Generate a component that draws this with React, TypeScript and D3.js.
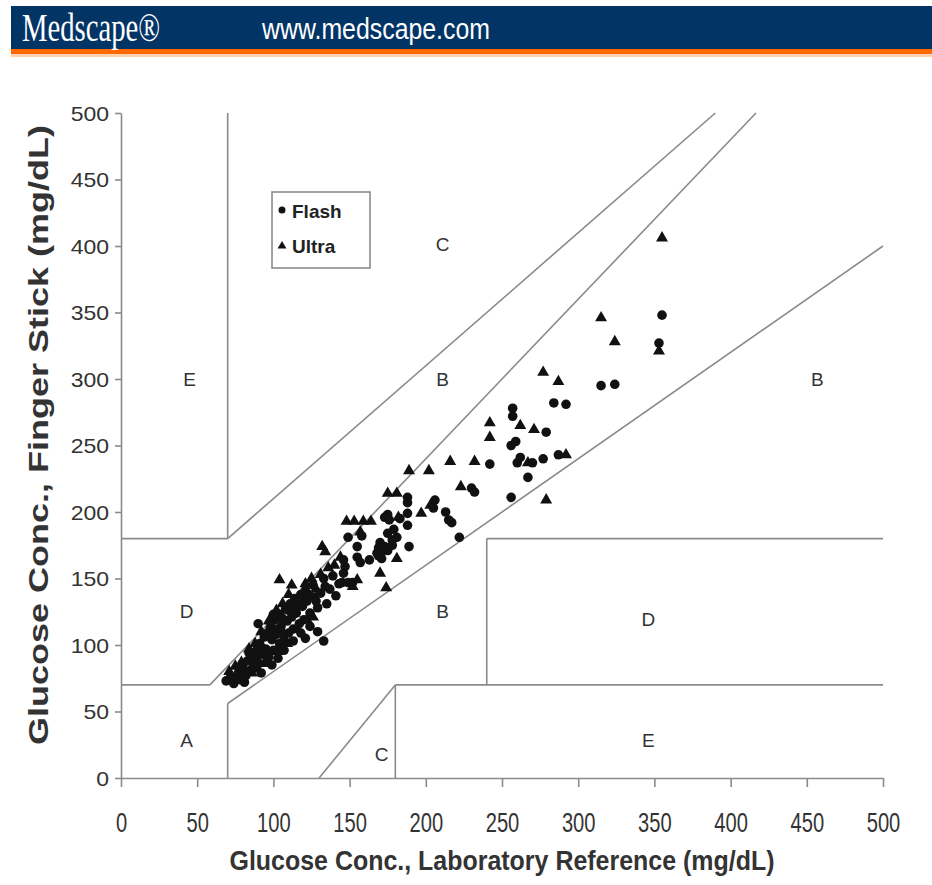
import { useEffect, useRef } from 'react'
import * as d3 from 'd3'

const xTicks = [0, 50, 100, 150, 200, 250, 300, 350, 400, 450, 500]
const yTicks = [0, 50, 100, 150, 200, 250, 300, 350, 400, 450, 500]

// Clarke error grid zone boundaries [x1, y1, x2, y2]
const zoneLines = [
  [0, 70, 175 / 3, 70],
  [175 / 3, 70, 1250 / 3, 500],
  [70, 180, 70, 500],
  [0, 180, 70, 180],
  [70, 180, 390, 500],
  [70, 56, 500, 400],
  [70, 0, 70, 56],
  [130, 0, 180, 70],
  [180, 0, 180, 70],
  [180, 70, 500, 70],
  [240, 70, 240, 180],
  [240, 180, 500, 180],
]

const zoneLabels = [
  ['E', 45, 300],
  ['C', 211, 401],
  ['B', 211, 300],
  ['B', 457, 300],
  ['D', 43, 125],
  ['B', 211, 125],
  ['D', 346, 119],
  ['A', 43, 28],
  ['C', 171, 18],
  ['E', 346, 28],
]

const flash = [
  [355, 348], [353, 327], [315, 295], [324, 296], [284, 282], [292, 281], [257, 278], [257, 272],
  [279, 260], [256, 250], [259, 253], [242, 236], [260, 237], [262, 241], [270, 237], [277, 240],
  [287, 243], [267, 226], [256, 211], [230, 218], [232, 215], [188, 211], [188, 207], [173, 196],
  [183, 195], [188, 199], [206, 209], [205, 203], [213, 200], [215, 194], [217, 192], [222, 181],
  [175, 184], [179, 187], [181, 181], [189, 174], [175, 198], [176, 194], [188, 190], [178, 179],
  [149, 181], [158, 182], [170, 177], [169, 173], [168, 169], [171, 170], [173, 174], [175, 171],
  [178, 175], [163, 164], [169, 167], [171, 165], [155, 174], [155, 166], [157, 162], [146, 164],
  [147, 159], [146, 154], [145, 147], [149, 147], [152, 147], [90, 116], [121, 105], [129, 110],
  [133, 103],
  [69, 73], [72, 76], [74, 71], [77, 79], [78, 74], [80, 83], [82, 77], [83, 88], [85, 81],
  [86, 92], [87, 85], [89, 96], [90, 87], [91, 101], [93, 93], [94, 106], [95, 97], [97, 91],
  [98, 113], [99, 104], [100, 96], [101, 119], [102, 108], [104, 101], [104, 123], [105, 114],
  [107, 104], [108, 127], [109, 118], [110, 109], [111, 131], [112, 121], [113, 112], [114, 135],
  [115, 124], [117, 116], [118, 138], [119, 129], [120, 119], [121, 141], [122, 133], [124, 124],
  [126, 145], [127, 136], [129, 128], [131, 139], [133, 150], [135, 131], [137, 142], [139, 152],
  [141, 137], [143, 146], [84, 94], [89, 83], [96, 88], [103, 90], [107, 96], [113, 103],
  [118, 109], [124, 114], [99, 85], [92, 79], [81, 72], [110, 126], [116, 133], [101, 112],
  [96, 109], [106, 120], [112, 127], [119, 134], [92, 98], [88, 91], [76, 75], [123, 138],
  [128, 133], [134, 144], [100, 123], [105, 110], [115, 129],
]

const ultra = [
  [355, 406], [353, 321], [315, 346], [324, 328], [277, 305], [287, 298], [242, 267], [262, 265],
  [271, 262], [242, 256], [189, 231], [202, 231], [216, 238], [232, 238], [267, 237], [292, 243],
  [279, 209], [223, 219], [175, 214], [181, 214], [197, 199], [203, 205], [148, 193], [153, 193],
  [159, 193], [164, 193], [182, 196], [157, 185], [181, 165], [170, 154], [132, 174], [134, 170],
  [155, 149], [152, 144], [174, 143], [104, 149], [112, 145],
  [71, 80], [75, 84], [79, 87], [84, 97], [88, 101], [92, 110], [97, 118], [102, 126], [106, 131],
  [110, 138], [114, 130], [118, 136], [121, 146], [125, 150], [128, 142], [131, 153], [136, 158],
  [140, 160], [144, 166], [98, 108], [103, 95], [109, 101], [116, 112], [122, 119], [126, 121],
  [86, 79], [94, 86],
]

const W = 932
const H = 885

export default function App() {
  const ref = useRef<SVGSVGElement | null>(null)

  useEffect(() => {
    const svg = d3.select(ref.current)
    svg.selectAll('*').remove()

    const x = d3.scaleLinear().domain([0, 500]).range([121, 883])
    const y = d3.scaleLinear().domain([0, 500]).range([778, 113])
    const grey = '#8a8a8a'
    const textCol = '#333'

    // header band
    svg.append('rect').attr('x', 11).attr('y', 6).attr('width', W - 11).attr('height', 43).attr('fill', '#033466')
    svg.append('rect').attr('x', 11).attr('y', 49).attr('width', W - 11).attr('height', 5).attr('fill', '#ff6a00')
    svg.append('rect').attr('x', 11).attr('y', 54).attr('width', W - 11).attr('height', 3).attr('fill', '#ffd2b0')
    svg
      .append('text')
      .attr('x', 22)
      .attr('y', 41)
      .attr('fill', '#fff')
      .attr('font-family', 'Liberation Serif, serif')
      .attr('font-size', 39)
      .attr('textLength', 138)
      .attr('lengthAdjust', 'spacingAndGlyphs')
      .text('Medscape®')
    svg
      .append('text')
      .attr('x', 262)
      .attr('y', 39)
      .attr('fill', '#fff')
      .attr('font-family', 'Liberation Sans, Arial, sans-serif')
      .attr('font-size', 29)
      .attr('textLength', 228)
      .attr('lengthAdjust', 'spacingAndGlyphs')
      .text('www.medscape.com')

    // zone lines
    svg
      .append('g')
      .selectAll('line')
      .data(zoneLines)
      .join('line')
      .attr('x1', (d) => x(d[0]))
      .attr('y1', (d) => y(d[1]))
      .attr('x2', (d) => x(d[2]))
      .attr('y2', (d) => y(d[3]))
      .attr('stroke', grey)
      .attr('stroke-width', 1.6)

    // axes
    const xAxis = svg
      .append('g')
      .attr('transform', `translate(0,${y(0)})`)
      .call(d3.axisBottom(x).tickValues(xTicks).tickSize(9).tickSizeOuter(0).tickFormat(d3.format('d')))
    xAxis.selectAll('path,line').attr('stroke', grey).attr('stroke-width', 1.6)
    xAxis
      .selectAll('text')
      .attr('fill', textCol)
      .attr('font-family', 'Liberation Sans, Arial, sans-serif')
      .attr('font-size', 28)
      .attr('y', 0)
      .attr('dy', 0)
      .attr('transform', 'translate(0,54) scale(0.72,1)')
      .attr('x', 0)

    const yAxis = svg
      .append('g')
      .attr('transform', `translate(${x(0)},0)`)
      .call(d3.axisLeft(y).tickValues(yTicks).tickSize(6).tickSizeOuter(0).tickFormat(d3.format('d')))
    yAxis.selectAll('path,line').attr('stroke', grey).attr('stroke-width', 1.6)
    yAxis
      .selectAll('text')
      .attr('fill', textCol)
      .attr('font-family', 'Liberation Sans, Arial, sans-serif')
      .attr('font-size', 20)
      .attr('x', 0)
      .attr('dy', '0.35em')
      .attr('transform', 'translate(-12,0) scale(1.15,1)')

    // axis titles
    svg
      .append('text')
      .attr('x', 502)
      .attr('y', 870)
      .attr('text-anchor', 'middle')
      .attr('fill', textCol)
      .attr('font-family', 'Liberation Sans, Arial, sans-serif')
      .attr('font-weight', 'bold')
      .attr('font-size', 27)
      .attr('textLength', 545)
      .attr('lengthAdjust', 'spacingAndGlyphs')
      .text('Glucose Conc., Laboratory Reference (mg/dL)')
    svg
      .append('text')
      .attr('transform', 'translate(48,435) rotate(-90)')
      .attr('text-anchor', 'middle')
      .attr('fill', textCol)
      .attr('font-family', 'Liberation Sans, Arial, sans-serif')
      .attr('font-weight', 'bold')
      .attr('font-size', 27)
      .attr('textLength', 620)
      .attr('lengthAdjust', 'spacingAndGlyphs')
      .text('Glucose Conc., Finger Stick (mg/dL)')

    // zone labels
    svg
      .append('g')
      .selectAll('text')
      .data(zoneLabels)
      .join('text')
      .attr('x', (d) => x(d[1] as number))
      .attr('y', (d) => y(d[2] as number))
      .attr('dy', '0.35em')
      .attr('text-anchor', 'middle')
      .attr('fill', textCol)
      .attr('font-family', 'Liberation Sans, Arial, sans-serif')
      .attr('font-size', 19)
      .text((d) => d[0] as string)

    // points
    const tri = d3.symbol().type(d3.symbolTriangle).size(62)
    svg
      .append('g')
      .selectAll('circle')
      .data(flash)
      .join('circle')
      .attr('cx', (d) => x(d[0]))
      .attr('cy', (d) => y(d[1]))
      .attr('r', 4.8)
      .attr('fill', '#111')
    svg
      .append('g')
      .selectAll('path')
      .data(ultra)
      .join('path')
      .attr('transform', (d) => `translate(${x(d[0])},${y(d[1])})`)
      .attr('d', tri)
      .attr('fill', '#111')

    // legend
    const lg = svg.append('g').attr('transform', 'translate(272,192)')
    lg.append('rect').attr('width', 98).attr('height', 76).attr('fill', '#fff').attr('stroke', grey).attr('stroke-width', 1.6)
    lg.append('circle').attr('cx', 10).attr('cy', 18).attr('r', 3.5).attr('fill', '#111')
    lg.append('path').attr('transform', 'translate(10,54)').attr('d', d3.symbol().type(d3.symbolTriangle).size(34)).attr('fill', '#111')
    ;['Flash', 'Ultra'].forEach((t, i) => {
      lg.append('text')
        .attr('x', 20)
        .attr('y', 19 + i * 35)
        .attr('dy', '0.35em')
        .attr('fill', '#222')
        .attr('font-family', 'Liberation Sans, Arial, sans-serif')
        .attr('font-weight', 'bold')
        .attr('font-size', 19)
        .text(t)
    })
  }, [])

  return (
    <div style={{ position: 'absolute', left: 0, top: 0, background: '#fff' }}>
      <svg ref={ref} width={W} height={H} style={{ display: 'block' }} />
    </div>
  )
}
